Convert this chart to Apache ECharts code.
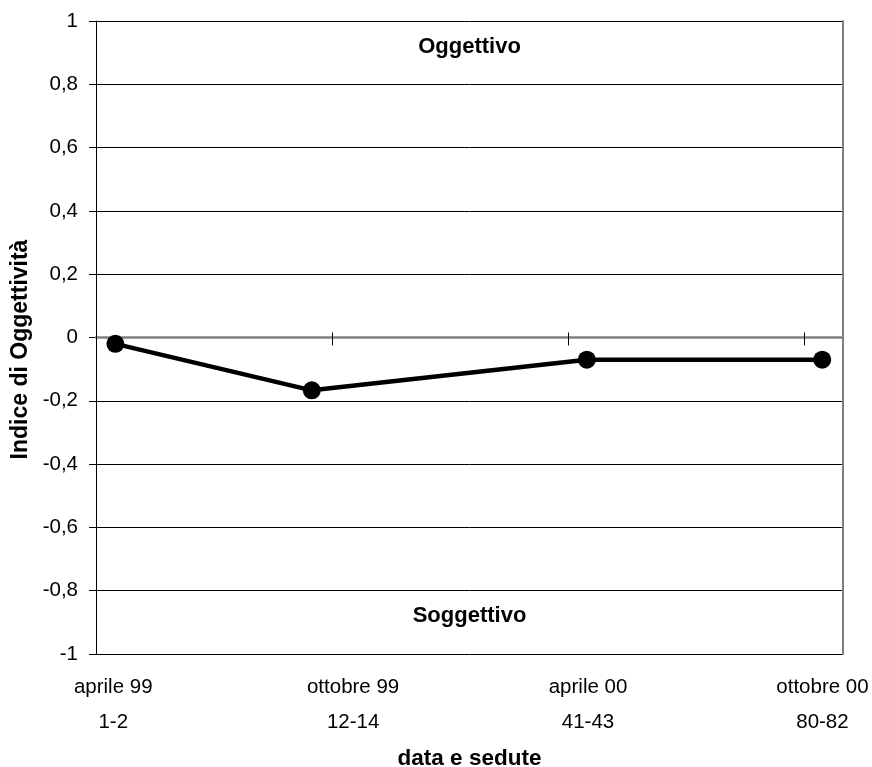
<!DOCTYPE html>
<html>
<head>
<meta charset="utf-8">
<script src="https://cdn.jsdelivr.net/npm/echarts@6/dist/echarts.min.js"></script>
<style>
  html, body { margin: 0; padding: 0; background: #fff; }
  #chart { width: 872px; height: 767px; }
</style>
</head>
<body>
<div id="chart"></div>
<script>
// Session positions along the time axis (units: half-years from April 1999)
const pointX = [0.082, 0.914, 2.079, 3.076];
// Objectivity index per period
const indexValues = [-0.02, -0.167, -0.07, -0.07];
// Period labels and session ranges shown under the plot
const periodLabels = ['aprile 99', 'ottobre 99', 'aprile 00', 'ottobre 00'];
const sessionLabels = ['1-2', '12-14', '41-43', '80-82'];
const labelX = [0.073, 1.089, 2.084, 3.077];
// Tick marks on the zero line
const zeroTicks = [0, 1, 2, 3];
// Y axis ticks
const yMin = -1, yMax = 1, yStep = 0.2;
const xMax = 3.164;

const FONT = '"Liberation Sans", Arial, sans-serif';

const chart = echarts.init(document.getElementById('chart'), null, { renderer: 'canvas' });

const seriesData = pointX.map((x, i) => [x, indexValues[i]]);

chart.setOption({
  animation: false,
  backgroundColor: '#ffffff',
  grid: { left: 96, top: 21, right: 29, bottom: 113, containLabel: false, outerBoundsMode: 'none' },
  xAxis: [
    {
      // zero line with tick marks rising above it
      type: 'value', min: 0, max: xMax, interval: 1, position: 'bottom', z: 5,
      axisLine: { show: true, onZero: true, onZeroAxisIndex: 0, lineStyle: { color: '#808080', width: 2.5 } },
      axisTick: { show: true, inside: true, length: 5, customValues: zeroTicks, lineStyle: { color: '#000', width: 1 } },
      axisLabel: { show: false },
      splitLine: { show: false }
    },
    {
      // same zero line, tick marks hanging below it
      type: 'value', min: 0, max: xMax, interval: 1, position: 'top', z: 5,
      axisLine: { show: false, onZero: true, onZeroAxisIndex: 0 },
      axisTick: { show: true, inside: true, length: 8, customValues: zeroTicks, lineStyle: { color: '#000', width: 1 } },
      axisLabel: { show: false },
      splitLine: { show: false }
    },
    {
      // period / session labels under the plot
      type: 'value', min: 0, max: xMax, position: 'bottom',
      axisLine: { show: false, onZero: false },
      axisTick: { show: false },
      splitLine: { show: false },
      axisLabel: {
        show: true,
        customValues: labelX,
        margin: 16,
        fontFamily: FONT, fontSize: 20.5, color: '#000', lineHeight: 35,
        formatter: function (v) {
          let k = 0, best = Infinity;
          labelX.forEach((lx, i) => { const d = Math.abs(lx - v); if (d < best) { best = d; k = i; } });
          return periodLabels[k] + '\n' + sessionLabels[k];
        }
      },
      name: 'data e sedute',
      nameLocation: 'middle',
      nameGap: 93,
      nameTextStyle: { fontFamily: FONT, fontSize: 22.5, fontWeight: 'bold', color: '#000' }
    }
  ],
  yAxis: [
    {
      type: 'value', min: yMin, max: yMax, interval: yStep, position: 'left',
      axisLine: { show: true, onZero: false, lineStyle: { color: '#000', width: 1 } },
      axisTick: { show: true, length: 7, lineStyle: { color: '#000', width: 1 } },
      axisLabel: {
        margin: 18, fontFamily: FONT, fontSize: 20.5, color: '#000',
        formatter: v => {
          const r = Math.round(v * 10) / 10;
          return String(r).replace('.', ',');
        }
      },
      splitLine: { show: true, lineStyle: { color: '#000', width: 1 } },
      name: 'Indice di Oggettività',
      nameLocation: 'middle',
      nameGap: 62,
      nameRotate: 90,
      nameTextStyle: { fontFamily: FONT, fontSize: 23, fontWeight: 'bold', color: '#000', padding: [0, 24, 0, 0] }
    },
    {
      // right frame edge
      type: 'value', min: yMin, max: yMax, interval: yStep, position: 'right',
      axisLine: { show: true, onZero: false, lineStyle: { color: '#808080', width: 2 } },
      axisTick: { show: false },
      axisLabel: { show: false },
      splitLine: { show: false }
    }
  ],
  graphic: [
    {
      type: 'text', z: 10,
      style: { text: 'Oggettivo', x: 469.5, y: 47, textAlign: 'center', textVerticalAlign: 'middle',
               fontFamily: FONT, fontSize: 22, fontWeight: 'bold', fill: '#000' }
    },
    {
      type: 'text', z: 10,
      style: { text: 'Soggettivo', x: 469.5, y: 616, textAlign: 'center', textVerticalAlign: 'middle',
               fontFamily: FONT, fontSize: 22, fontWeight: 'bold', fill: '#000' }
    }
  ],
  series: [
    {
      type: 'line',
      xAxisIndex: 0, yAxisIndex: 0,
      data: seriesData,
      symbol: 'circle',
      symbolSize: 18,
      z: 10,
      lineStyle: { color: '#000', width: 4.5 },
      itemStyle: { color: '#000' }
    }
  ]
});
</script>
</body>
</html>
